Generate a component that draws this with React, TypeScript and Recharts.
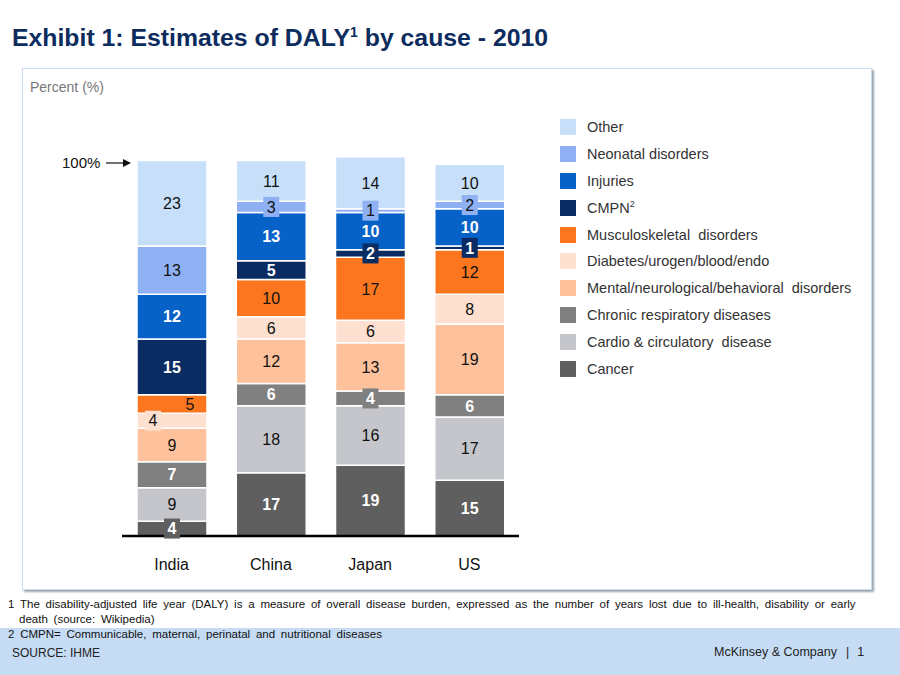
import React from 'react';
import { BarChart, Bar, XAxis, YAxis, LabelList } from 'recharts';

const countries = ['India', 'China', 'Japan', 'US'];

// shares per country, bottom of the stack first
const cancer = [4, 17, 19, 15];
const cardio = [9, 18, 16, 17];
const chronicResp = [7, 6, 4, 6];
const mental = [9, 12, 13, 19];
const diabetes = [4, 6, 6, 8];
const musculo = [5, 10, 17, 12];
const cmpn = [15, 5, 2, 1];
const injuries = [12, 13, 10, 10];
const neonatal = [13, 3, 1, 2];
const other = [23, 11, 14, 10];

const series = [
  { key: 'cancer', name: 'Cancer', values: cancer, color: '#5f5f5f', text: '#fff', bold: true },
  { key: 'cardio', name: 'Cardio & circulatory  disease', values: cardio, color: '#c5c6cb', text: '#111', bold: false },
  { key: 'chronicResp', name: 'Chronic respiratory diseases', values: chronicResp, color: '#808080', text: '#fff', bold: true },
  { key: 'mental', name: 'Mental/neurological/behavioral  disorders', values: mental, color: '#fdc29c', text: '#111', bold: false },
  { key: 'diabetes', name: 'Diabetes/urogen/blood/endo', values: diabetes, color: '#fde0cf', text: '#111', bold: false },
  { key: 'musculo', name: 'Musculoskeletal  disorders', values: musculo, color: '#fb761e', text: '#111', bold: false },
  { key: 'cmpn', name: 'CMPN', values: cmpn, color: '#0b2b63', text: '#fff', bold: true },
  { key: 'injuries', name: 'Injuries', values: injuries, color: '#0762c8', text: '#fff', bold: true },
  { key: 'neonatal', name: 'Neonatal disorders', values: neonatal, color: '#8fb1f4', text: '#111', bold: false },
  { key: 'other', name: 'Other', values: other, color: '#c7dff8', text: '#111', bold: false },
];

const rows = countries.map((c, i) => {
  const row: Record<string, string | number> = { country: c };
  series.forEach((s) => { row[s.key] = s.values[i]; });
  return row;
});

// a few labels in the India bar are nudged sideways to avoid crowding
const labelShift: Record<string, number> = { 'musculo-0': 18, 'diabetes-0': -19 };

const makeLabel = (s: typeof series[number]) => (props: any) => {
  const { x, y, width, height, value, index } = props;
  const cx = Number(x) + Number(width) / 2 + (labelShift[`${s.key}-${index}`] || 0);
  const cy = Number(y) + Number(height) / 2;
  const small = Number(value) <= 4;
  return (
    <g>
      {small && (
        <rect x={cx - 8} y={cy - 10} width={16} height={20} fill={s.color} />
      )}
      <text
        x={cx}
        y={cy}
        dy="0.36em"
        textAnchor="middle"
        fill={s.text}
        fontSize={16}
        fontWeight={s.bold ? 700 : 400}
        fontFamily="Arial, 'Liberation Sans', sans-serif"
      >
        {value}
      </text>
    </g>
  );
};

const LegendBox = () => (
  <div style={{ fontFamily: "Arial, 'Liberation Sans', sans-serif", fontSize: 14.5, color: '#333' }}>
    {[...series].reverse().map((s) => (
      <div key={s.key} style={{ display: 'flex', alignItems: 'center', height: 26.8 }}>
        <span style={{ width: 16, height: 16, background: s.color, marginRight: 11, display: 'inline-block' }} />
        <span style={{ whiteSpace: 'pre' }}>
          {s.name}
          {s.key === 'cmpn' && <sup style={{ fontSize: 9 }}>2</sup>}
        </span>
      </div>
    ))}
  </div>
);

export default function App() {
  return (
    <div style={{ position: 'absolute', left: 0, top: 0, width: 900, height: 675, background: '#fff', fontFamily: "Arial, 'Liberation Sans', sans-serif", overflow: 'hidden' }}>
      <div style={{ position: 'absolute', left: 12, top: 24, fontSize: 24.8, fontWeight: 700, color: '#0d2c5e' }}>
        Exhibit 1: Estimates of DALY<sup style={{ fontSize: 14 }}>1</sup> by cause - 2010
      </div>

      <div style={{ position: 'absolute', left: 22, top: 68, width: 848, height: 520, border: '1px solid #c9dcf0', boxShadow: '2px 2px 2px #9aa3ad' }} />

      <div style={{ position: 'absolute', left: 30, top: 79, fontSize: 14, color: '#777' }}>Percent (%)</div>

      <div style={{ position: 'absolute', left: 62, top: 154, fontSize: 15, color: '#111', display: 'flex', alignItems: 'center' }}>
        100%
        <svg width={26} height={10} style={{ marginLeft: 6 }}>
          <line x1={0} y1={5} x2={19} y2={5} stroke="#111" strokeWidth={1.2} />
          <path d="M 17 1 L 25 5 L 17 9 Z" fill="#111" />
        </svg>
      </div>

      <div style={{ position: 'absolute', left: 0, top: 0 }}>
        <BarChart width={900} height={675} data={rows} margin={{ top: 127, right: 381, bottom: 109, left: 122 }} barSize={70}>
          <XAxis
            dataKey="country"
            axisLine={{ stroke: '#000', strokeWidth: 2.5 }}
            tickLine={false}
            tickSize={0}
            tickMargin={23}
            tick={{ fontSize: 16, fill: '#111', fontFamily: "Arial, 'Liberation Sans', sans-serif" }}
          />
          <YAxis hide domain={[0, 110]} />
          {series.map((s) => (
            <Bar key={s.key} dataKey={s.key} name={s.name} stackId="a" fill={s.color} stroke="#fff" strokeWidth={1.5} isAnimationActive={false}>
              <LabelList dataKey={s.key} content={makeLabel(s)} />
            </Bar>
          ))}
        </BarChart>
      </div>

      <div style={{ position: 'absolute', left: 560, top: 114 }}>
        <LegendBox />
      </div>

      <div style={{ position: 'absolute', left: 0, top: 628, width: 900, height: 47, background: '#c6dcf5' }} />

      <div style={{ position: 'absolute', left: 8, top: 597, width: 880, fontSize: 11.5, lineHeight: '14.5px', color: '#111', fontFamily: "'Liberation Sans Narrow', 'Arial Narrow', Arial, sans-serif", wordSpacing: 2.6 }}>
        <div>1 The disability-adjusted life year (DALY) is a measure of overall disease burden, expressed as the number of years lost due to ill-health, disability or early</div>
        <div style={{ paddingLeft: 11 }}>death (source: Wikipedia)</div>
        <div style={{ marginTop: 1 }}>2 CMPN= Communicable, maternal, perinatal and nutritional diseases</div>
      </div>

      <div style={{ position: 'absolute', left: 12, top: 646, fontSize: 12, color: '#222', fontFamily: "'Liberation Sans Narrow', 'Arial Narrow', Arial, sans-serif" }}>SOURCE: IHME</div>
      <div style={{ position: 'absolute', left: 714, top: 645, fontSize: 12.5, color: '#222' }}>
        McKinsey &amp; Company
        <span style={{ marginLeft: 9 }}>|</span>
        <span style={{ marginLeft: 8 }}>1</span>
      </div>
    </div>
  );
}
